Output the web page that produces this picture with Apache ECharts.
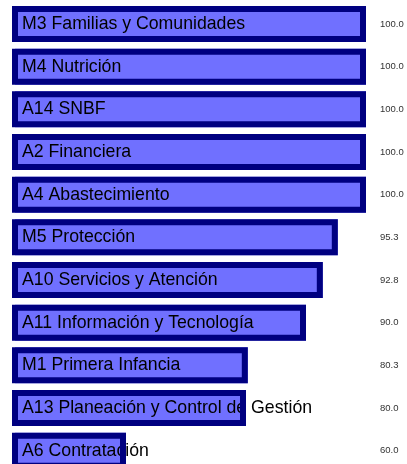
<!DOCTYPE html>
<html>
<head>
<meta charset="utf-8">
<script src="https://cdn.jsdelivr.net/npm/echarts@6/dist/echarts.min.js"></script>
<style>
  html, body { margin: 0; padding: 0; background: #fff; }
  #chart { width: 407px; height: 464px; }
</style>
</head>
<body>
<div id="chart"></div>
<script>
  // categorias (de arriba hacia abajo) y su porcentaje
  const categories = [
    'M3 Familias y Comunidades',
    'M4 Nutrición',
    'A14 SNBF',
    'A2 Financiera',
    'A4 Abastecimiento',
    'M5 Protección',
    'A10 Servicios y Atención',
    'A11 Información y Tecnología',
    'M1 Primera Infancia',
    'A13 Planeación y Control de Gestión',
    'A6 Contratación'
  ]
  const values = [100.0, 100.0, 100.0, 100.0, 100.0, 95.3, 92.8, 90.0, 80.3, 80.0, 60.0]
  const valueLabels = ['100.0', '100.0', '100.0', '100.0', '100.0', '95.3', '92.8', '90.0', '80.3', '80.0', '60.0']

  const chart = echarts.init(document.getElementById('chart'), null, {renderer: 'canvas'})

  chart.setOption({
    animation: false,
    grid: {
      left: 15,
      right: 41,
      top: 2.7,
      bottom: -8,
      // dejar que la ultima barra salga del lienzo como en el original
      outerBoundsMode: 'none'
    },
    xAxis: {
      type: 'value',
      min: 41.5,
      max: 100,
      show: false
    },
    yAxis: [
      {
        type: 'category',
        data: categories,
        inverse: true,
        show: false
      },
      {
        // columna de valores a la derecha
        type: 'category',
        data: valueLabels,
        inverse: true,
        position: 'right',
        axisLine: {show: false},
        axisTick: {show: false},
        splitLine: {show: false},
        axisLabel: {
          margin: 14,
          fontFamily: 'Liberation Sans',
          fontSize: 9.5,
          color: '#333'
        }
      }
    ],
    series: [
      {
        // relleno con la etiqueta
        name: 'relleno',
        type: 'bar',
        data: values,
        barWidth: 36,
        z: 2,
        itemStyle: {
          color: '#7070ff'
        },
        label: {
          show: true,
          position: 'insideLeft',
          distance: 7,
          formatter: p => categories[p.dataIndex],
          fontFamily: 'Liberation Sans',
          fontSize: 17.7,
          color: '#000'
        }
      },
      {
        // borde encima (tapa parte del texto)
        name: 'borde',
        type: 'bar',
        data: values,
        barWidth: 36,
        barGap: '-100%',
        z: 3,
        itemStyle: {
          color: 'rgba(0,0,0,0)',
          borderColor: '#000080',
          borderWidth: 6
        }
      }
    ]
  })
</script>
</body>
</html>
